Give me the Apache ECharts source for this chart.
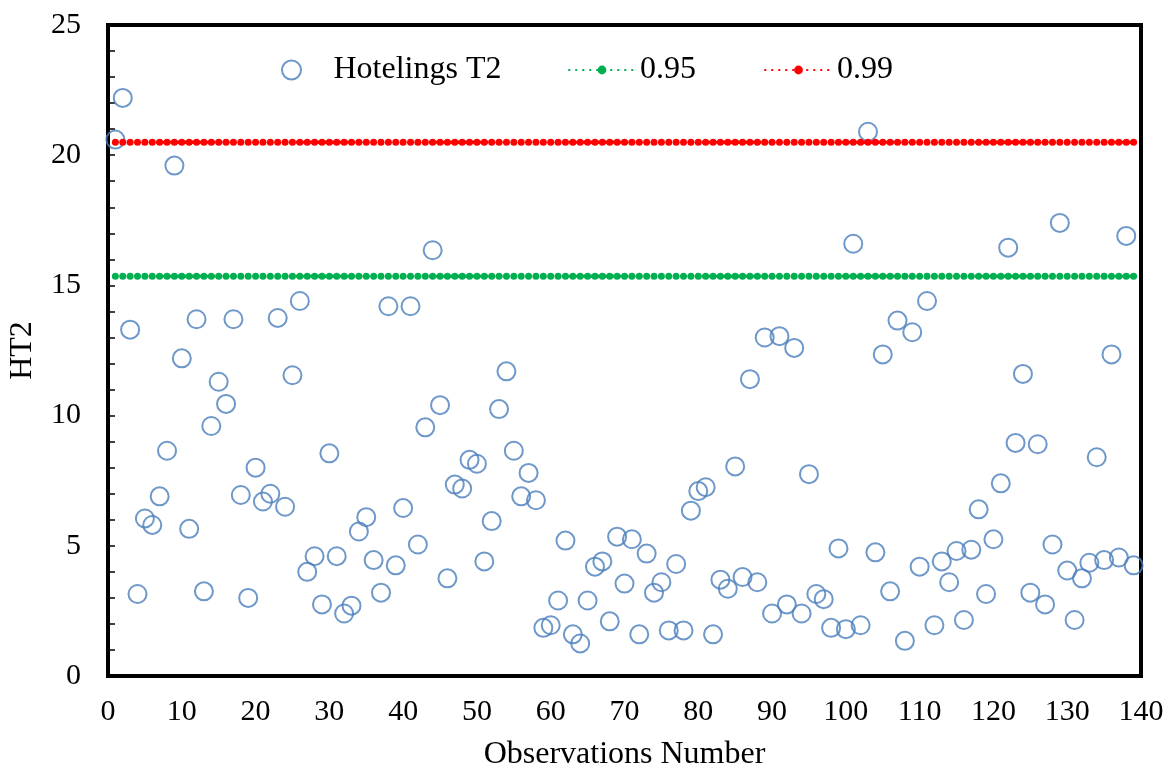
<!DOCTYPE html>
<html>
<head>
<meta charset="utf-8">
<title>Hotelings T2</title>
<script src="https://cdn.jsdelivr.net/npm/echarts@6/dist/echarts.min.js"></script>
<style>
  html, body { margin: 0; padding: 0; background: #fff; }
  #chart { width: 1168px; height: 771px; }
</style>
</head>
<body>
<div id="chart"></div>
<script>
// Hotelling's T2 statistic for observations 1..139
const ht2 = [
  20.6, 22.2, 13.3, 3.15, 6.05, 5.8, 6.9, 8.65, 19.6, 12.2,
  5.65, 13.7, 3.25, 9.6, 11.3, 10.45, 13.7, 6.95, 3.0, 8.0,
  6.7, 7.0, 13.75, 6.5, 11.55, 14.4, 4.0, 4.6, 2.75, 8.55,
  4.6, 2.4, 2.7, 5.55, 6.1, 4.45, 3.2, 14.2, 4.25, 6.45,
  14.2, 5.05, 9.55, 16.35, 10.4, 3.75, 7.35, 7.2, 8.3, 8.15,
  4.4, 5.95, 10.25, 11.7, 8.65, 6.9, 7.8, 6.75, 1.85, 1.95,
  2.9, 5.2, 1.6, 1.25, 2.9, 4.2, 4.4, 2.1, 5.35, 3.55,
  5.25, 1.6, 4.7, 3.2, 3.6, 1.75, 4.3, 1.75, 6.35, 7.1,
  7.25, 1.6, 3.7, 3.35, 8.05, 3.8, 11.4, 3.6, 13.0, 2.4,
  13.05, 2.75, 12.6, 2.4, 7.75, 3.15, 2.95, 1.85, 4.9, 1.8,
  16.6, 1.95, 20.9, 4.75, 12.35, 3.25, 13.65, 1.35, 13.2, 4.2,
  14.4, 1.95, 4.4, 3.6, 4.8, 2.15, 4.85, 6.4, 3.15, 5.25,
  7.4, 16.45, 8.95, 11.6, 3.2, 8.9, 2.75, 5.05, 17.4, 4.05,
  2.15, 3.75, 4.35, 8.4, 4.45, 12.35, 4.55, 16.9, 4.25
];

// Control limits
const limit95 = 15.35;
const limit99 = 20.5;

const xTicks = { min: 0, max: 140, interval: 10 };
const yTicks = { min: 0, max: 25, interval: 5 };

const seriesNames = ['Hotelings T2', '0.95', '0.99'];

const obsPoints = ht2.map((v, i) => [i + 1, v]);
const line95 = ht2.map((v, i) => [i + 1, limit95]);
const line99 = ht2.map((v, i) => [i + 1, limit99]);

const FONT = '"Liberation Serif", "Times New Roman", serif';
const legendText = { fontFamily: FONT, fontSize: 32, color: '#000' };

const chart = echarts.init(document.getElementById('chart'), null, { renderer: 'canvas' });
chart.setOption({
  backgroundColor: '#fff',
  animation: false,
  grid: {
    left: 108, right: 27, top: 25, bottom: 95,
    outerBoundsMode: 'none',
    show: true, borderColor: '#000', borderWidth: 4, backgroundColor: 'transparent'
  },
  legend: [
    { data: [seriesNames[0]], left: 276, top: 49, itemWidth: 74, itemHeight: 19, textStyle: legendText },
    { data: [seriesNames[1]], left: 563, top: 49, itemWidth: 66, itemHeight: 11, textStyle: legendText },
    { data: [seriesNames[2]], left: 759, top: 49, itemWidth: 67, itemHeight: 11, textStyle: legendText }
  ],
  xAxis: {
    type: 'value',
    min: xTicks.min, max: xTicks.max, interval: xTicks.interval,
    name: 'Observations Number',
    nameLocation: 'middle',
    nameGap: 63,
    nameTextStyle: { fontFamily: FONT, fontSize: 32, color: '#000' },
    axisLine: { show: true, lineStyle: { color: '#000', width: 4 } },
    axisTick: { show: false },
    axisLabel: { fontFamily: FONT, fontSize: 30, color: '#000', margin: 21 },
    splitLine: { show: false }
  },
  yAxis: {
    type: 'value',
    min: yTicks.min, max: yTicks.max, interval: yTicks.interval,
    name: 'HT2',
    nameLocation: 'middle',
    nameGap: 69,
    nameTextStyle: { fontFamily: FONT, fontSize: 32, color: '#000' },
    axisLine: { show: true, lineStyle: { color: '#000', width: 4 } },
    axisTick: { show: true, inside: true, length: 7, lineStyle: { color: '#000', width: 1.5 } },
    minorTick: { show: true, splitNumber: 5, length: 7, lineStyle: { color: '#000', width: 1.5 } },
    axisLabel: { fontFamily: FONT, fontSize: 30, color: '#000', margin: 27 },
    splitLine: { show: false }
  },
  series: [
    {
      name: seriesNames[0],
      type: 'scatter',
      data: obsPoints,
      symbol: 'circle',
      symbolSize: 18,
      itemStyle: { color: 'rgba(255,255,255,0)', borderColor: '#4A7EBB', borderWidth: 2 },
      z: 2
    },
    {
      name: seriesNames[1],
      type: 'line',
      data: line95,
      symbol: 'circle',
      symbolSize: 7,
      showSymbol: true,
      itemStyle: { color: '#00B050' },
      lineStyle: { color: '#00B050', width: 3.5, type: [0.5, 6.5], cap: 'round' },
      z: 3
    },
    {
      name: seriesNames[2],
      type: 'line',
      data: line99,
      symbol: 'circle',
      symbolSize: 7,
      showSymbol: true,
      itemStyle: { color: '#FF0000' },
      lineStyle: { color: '#FF0000', width: 3.5, type: [0.5, 6.5], cap: 'round' },
      z: 3
    }
  ]
});
</script>
</body>
</html>
